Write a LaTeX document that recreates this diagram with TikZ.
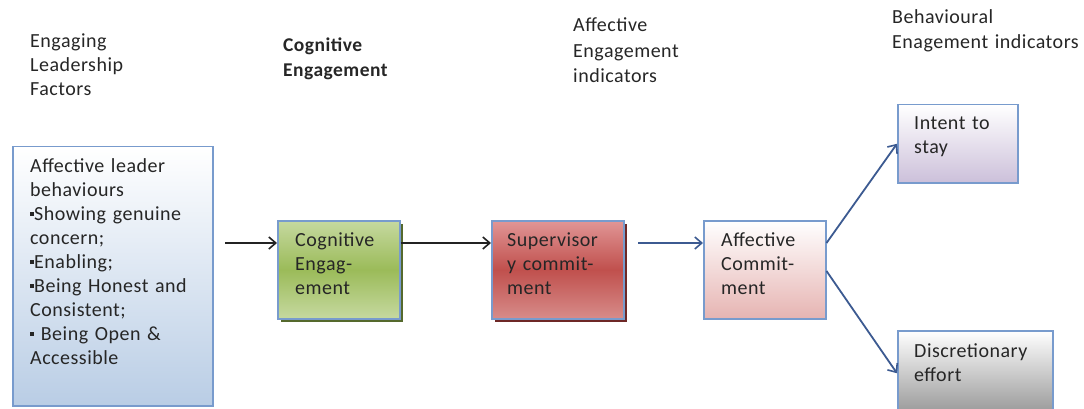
\documentclass[tikz,border=0pt]{standalone}
\usepackage{fontspec}
\setmainfont{Carlito}[LetterSpace=2.5]
\usetikzlibrary{arrows.meta,shadows}

\definecolor{boxline}{RGB}{120,155,205}
\definecolor{leadblue}{RGB}{185,205,229}
\definecolor{greenlight}{RGB}{198,217,160}
\definecolor{greenmid}{RGB}{155,187,89}
\definecolor{greenshadow}{RGB}{85,105,45}
\definecolor{redlight}{RGB}{225,150,150}
\definecolor{redmid}{RGB}{192,80,77}
\definecolor{redbottom}{RGB}{215,140,138}
\definecolor{redshadow}{RGB}{110,40,38}
\definecolor{pinkbottom}{RGB}{230,180,178}
\definecolor{lavender}{RGB}{204,192,218}
\definecolor{greybottom}{RGB}{150,150,150}
\definecolor{arrowblue}{RGB}{60,90,145}
\definecolor{arrowblack}{RGB}{35,35,35}

% small square bullet
\newcommand{\sqbul}{\rule[0.22em]{0.2em}{0.2em}}

\tikzset{
  box/.style={draw=boxline, line width=1.5pt, rectangle, anchor=north west, inner sep=0pt},
  txt/.style={anchor=base west, inner sep=0pt, align=left, text width=#1,
              font=\fontsize{20}{24}\selectfont, text=black!85},
  txt/.default=200pt,
  hdr/.style={txt=#1},
  conn/.style={line width=1.8pt, -{Straight Barb[length=7pt,width=12pt,line width=1.6pt]}},
}

\begin{document}
\begin{tikzpicture}[x=1pt,y=-1pt]
\useasboundingbox (0,0) rectangle (1084,409);

% column headings
\node[hdr=150pt] (h1) at (30,48) {Engaging\\Leadership\\Factors};
\node[hdr=150pt, font=\bfseries\fontsize{19.5}{25}\selectfont] (h2) at (283,52) {Cognitive\\Engagement};
\node[hdr=150pt, font=\fontsize{20}{25.5}\selectfont] (h3) at (573,32) {Affective\\Engagement\\indicators};
\node[hdr=200pt, font=\fontsize{20}{25}\selectfont] (h4) at (892,24) {Behavioural\\Enagement indicators};

% boxes
\node[box, minimum width=200pt, minimum height=259pt,
      top color=white, bottom color=leadblue] (lead) at (12,146) {};
\node[box, minimum width=122pt, minimum height=98pt,
      top color=greenlight, bottom color=greenlight, middle color=greenmid,
      drop shadow={shadow xshift=3pt, shadow yshift=-3pt, fill=greenshadow, opacity=1}] (cog) at (277,220) {};
\node[box, minimum width=132pt, minimum height=98pt,
      top color=redlight, bottom color=redbottom, middle color=redmid,
      drop shadow={shadow xshift=3pt, shadow yshift=-3pt, fill=redshadow, opacity=1}] (sup) at (491,220) {};
\node[box, minimum width=122pt, minimum height=98pt,
      top color=white, bottom color=pinkbottom] (aff) at (703,220) {};
\node[box, minimum width=120pt, minimum height=78pt,
      top color=white, bottom color=lavender] (int) at (897,104) {};
\node[box, minimum width=155pt, minimum height=85pt,
      top color=white, bottom color=greybottom] (dis) at (897,330) {};

% box texts
\node[txt=190pt] (leadt) at (30,172) {Affective leader\\behaviours\\\sqbul Showing genuine\\concern;\\\sqbul Enabling;\\\sqbul Being Honest and\\Consistent;\\\sqbul{} Being Open \&\\Accessible};
\node[txt=110pt] (cogt) at (295,246) {Cognitive\\Engag-\\ement};
\node[txt=115pt] (supt) at (507,246) {Supervisor\\y commit-\\ment};
\node[txt=110pt] (afft) at (721,246) {Affective\\Commit-\\ment};
\node[txt=110pt] (intt) at (914,130) {Intent to\\stay};
\node[txt=140pt] (dist) at (914,357) {Discretionary\\effort};

% connectors
\coordinate (s1) at (225,243);
\coordinate (s3) at (638,243);
\draw[conn, arrowblack] (s1) -- (s1 -| cog.west);
\draw[conn, arrowblack] (cog.east |- s1) -- (sup.west |- s1);
\draw[conn, arrowblue] (s3) -- (aff.west |- s3);
\draw[conn, arrowblue] (aff.east |- s3) -- (int.west);
\draw[conn, arrowblue] ([yshift=-28pt]aff.east |- s3) -- (dis.west);
\end{tikzpicture}
\end{document}
